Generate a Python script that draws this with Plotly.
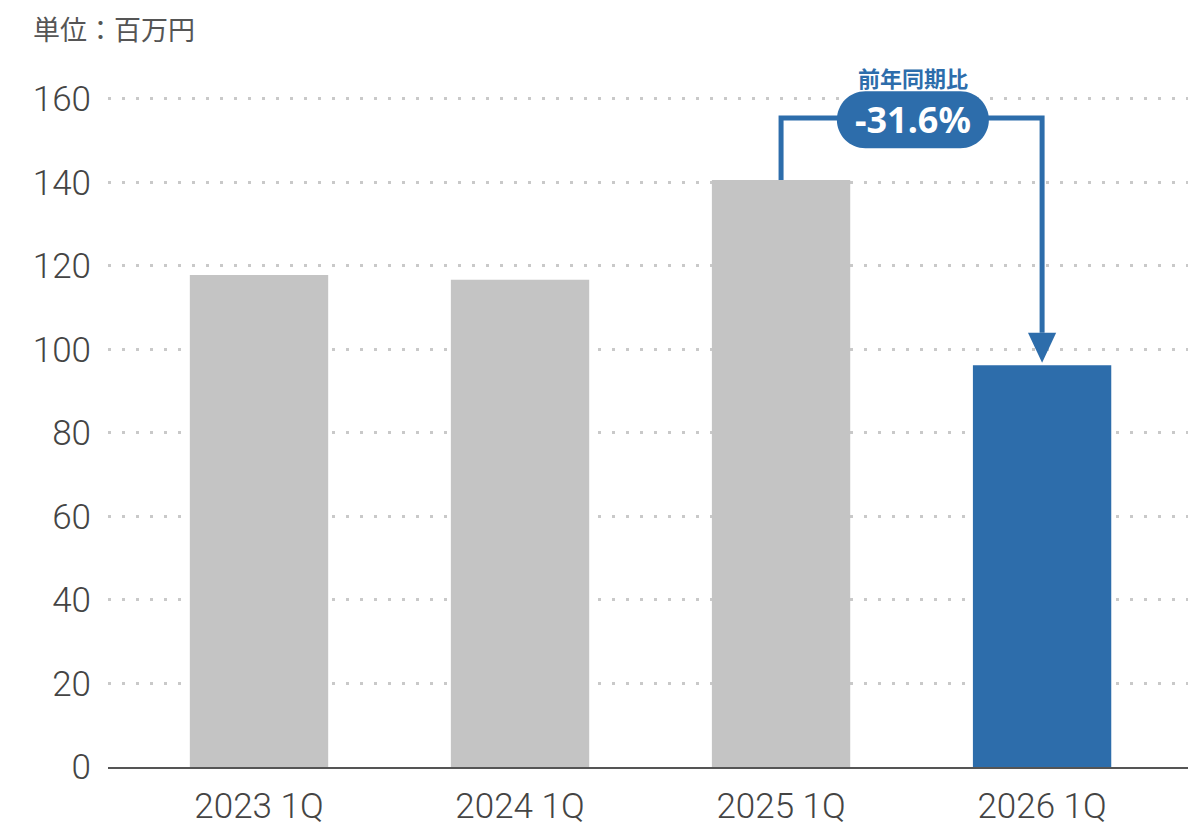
import plotly.graph_objects as go

# Quarterly figures (unit: million yen)
categories = ["2023 1Q", "2024 1Q", "2025 1Q", "2026 1Q"]
values = [117.8, 116.7, 140.6, 96.2]
bar_colors = ["#c4c4c4", "#c4c4c4", "#c4c4c4", "#2d6dab"]
y_ticks = [0, 20, 40, 60, 80, 100, 120, 140, 160]
yoy_label = "前年同期比"
yoy_text = "-31.6%"

BLUE = "#2d6dab"
NUM_FONT = "Roboto, sans-serif"
JP_FONT = "Noto Sans CJK JP, sans-serif"

xpos = list(range(len(categories)))

fig = go.Figure(
    go.Bar(
        x=xpos,
        y=values,
        width=0.53,
        marker=dict(color=bar_colors, line=dict(width=0)),
        hoverinfo="skip",
    )
)

# Year-over-year bracket from the prior-year bar to the latest bar
prev_i, cur_i = 2, 3
bracket_y = 155.4
head_len = 7.2      # arrowhead length in y units
head_half = 0.054   # arrowhead half-width in x units
tip_y = values[cur_i] + 0.6

fig.add_shape(
    type="path",
    path=(f"M {prev_i},{values[prev_i]} L {prev_i},{bracket_y} "
          f"L {cur_i},{bracket_y} L {cur_i},{tip_y + head_len}"),
    line=dict(color=BLUE, width=5),
    layer="above",
)
fig.add_shape(
    type="path",
    path=(f"M {cur_i - head_half},{tip_y + head_len} L {cur_i + head_half},{tip_y + head_len} "
          f"L {cur_i},{tip_y} Z"),
    line=dict(width=0),
    fillcolor=BLUE,
    layer="above",
)

# Rounded pill behind the percentage
hw, hh = 76, 28.5
s = hw - hh
k = 0.5523 * hh
pill = (f"M {-s},{-hh} L {s},{-hh} "
        f"C {s + k},{-hh} {hw},{-k} {hw},0 "
        f"C {hw},{k} {s + k},{hh} {s},{hh} "
        f"L {-s},{hh} "
        f"C {-s - k},{hh} {-hw},{k} {-hw},0 "
        f"C {-hw},{-k} {-s - k},{-hh} {-s},{-hh} Z")
pill_x = (prev_i + cur_i) / 2 + 0.005
pill_y = bracket_y - 0.4
fig.add_shape(
    type="path",
    xsizemode="pixel",
    ysizemode="pixel",
    xanchor=pill_x,
    yanchor=pill_y,
    path=pill,
    line=dict(width=0),
    fillcolor=BLUE,
    layer="above",
)
fig.add_annotation(
    x=pill_x, y=pill_y, text=f"<b>{yoy_text}</b>", showarrow=False,
    font=dict(family="Noto Sans, sans-serif", size=36, color="white"),
    xanchor="center", yanchor="middle",
)
fig.add_annotation(
    x=pill_x, y=pill_y, yshift=43, text=f"<b>{yoy_label}</b>", showarrow=False,
    font=dict(family=JP_FONT, size=22, color=BLUE),
    xanchor="center", yanchor="middle",
)

# Unit caption
fig.add_annotation(
    xref="paper", yref="paper", x=-0.071, y=1.0, yshift=50,
    text="単位：百万円", showarrow=False,
    font=dict(family=JP_FONT, size=27, color="#555555"),
    xanchor="left", yanchor="middle",
)

fig.update_layout(
    width=1188,
    height=826,
    margin=dict(l=108, r=0, t=78, b=59, autoexpand=False),
    paper_bgcolor="white",
    plot_bgcolor="white",
    showlegend=False,
    xaxis=dict(
        range=[-0.5785, 3.559],
        tickvals=xpos,
        ticktext=categories,
        automargin=False,
        showgrid=False,
        zeroline=False,
        showline=True,
        linecolor="#555555",
        linewidth=2,
        ticks="",
        ticklabelstandoff=7,
        tickfont=dict(family=NUM_FONT, size=35, color="#444444", weight=300),
        fixedrange=True,
    ),
    yaxis=dict(
        range=[0, 165],
        tickvals=y_ticks,
        automargin=False,
        showgrid=True,
        gridcolor="#c9c9c9",
        gridwidth=2.5,
        griddash="3px,11px",
        zeroline=False,
        showline=False,
        ticks="",
        ticklabelstandoff=16,
        tickfont=dict(family=NUM_FONT, size=35, color="#444444", weight=300),
        fixedrange=True,
    ),
)

fig.write_html("out.html")
